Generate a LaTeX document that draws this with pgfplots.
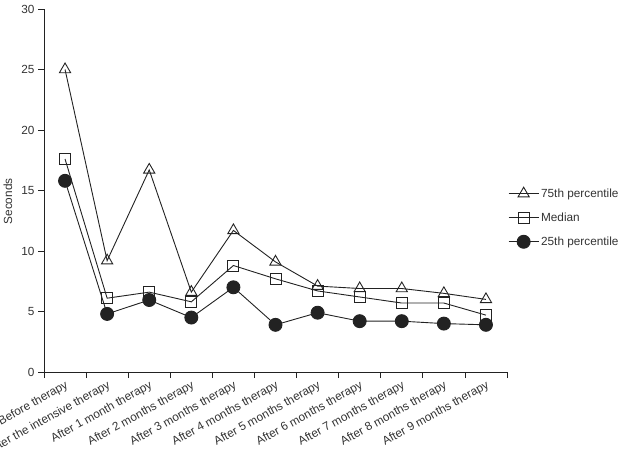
\documentclass[border=0pt]{standalone}
\usepackage{fontspec}
\setmainfont{Liberation Sans}
\usepackage{pgfplots}
\pgfplotsset{compat=1.18}
\definecolor{ink}{HTML}{222222}
\definecolor{txt}{HTML}{333333}
\begin{document}
\begin{tikzpicture}[x=1pt,y=1pt]
\path[use as bounding box] (0,0) rectangle (626,463);
\begin{axis}[
  at={(44pt,91pt)}, anchor=south west,
  width=463pt, height=363pt, scale only axis,
  xmin=-0.5, xmax=10.5, ymin=0, ymax=30,
  axis x line=bottom, axis y line=left,
  axis line style={-, line width=0.8pt, ink},
  every tick/.style={line width=0.8pt, ink},
  tick align=outside,
  major tick length=6pt, minor tick length=6pt,
  xtick={0,...,10},
  major x tick style={draw=none},
  minor xtick={-0.5,0.5,...,10.5},
  xticklabels={Before therapy, After the intensive therapy, After 1 month therapy,
    After 2 months therapy, After 3 months therapy, After 4 months therapy,
    After 5 months therapy, After 6 months therapy, After 7 months therapy,
    After 8 months therapy, After 9 months therapy},
  ytick={0,5,...,30},
  /pgf/number format/assume math mode=true,
  tick label style={font=\fontsize{11.8}{14}\selectfont, txt},
  x tick label style={rotate=29, anchor=north east, yshift=2pt, xshift=2pt},
  ylabel={Seconds},
  ylabel style={at={(axis description cs:-0.078,0.47)}, anchor=center,
    font=\fontsize{11.8}{14}\selectfont, txt},
  legend style={at={(1,0.425)}, anchor=west, draw=none, fill=none,
    font=\fontsize{11.8}{14}\selectfont, text=txt, row sep=10pt,
    inner sep=1pt},
  legend cell align=left,
  legend image code/.code={
    \draw[mark repeat=2, mark phase=2]
      plot coordinates {(0pt,0pt) (15pt,0pt) (30pt,0pt)};},
  every axis plot/.append style={line width=0.9pt, ink},
]
% 75th percentile
\addplot[mark=triangle, mark size=6.5pt, mark options={fill=white, solid}]
  coordinates {(0,25.0) (1,9.2) (2,16.7) (3,6.6) (4,11.7) (5,9.1)
               (6,7.1) (7,6.9) (8,6.9) (9,6.5) (10,6.0)};
\addlegendentry{75th percentile}
% median
\addplot[mark=square, mark size=5.5pt, mark options={fill=white, solid}]
  coordinates {(0,17.6) (1,6.1) (2,6.6) (3,5.8) (4,8.8) (5,7.7)
               (6,6.7) (7,6.2) (8,5.7) (9,5.7) (10,4.7)};
\addlegendentry{Median}
% 25th percentile
\addplot[mark=*, mark size=6.5pt, mark options={fill=ink, solid}]
  coordinates {(0,15.8) (1,4.8) (2,5.95) (3,4.5) (4,7.0) (5,3.9)
               (6,4.9) (7,4.2) (8,4.2) (9,4.0) (10,3.9)};
\addlegendentry{25th percentile}
\end{axis}
\end{tikzpicture}
\end{document}
